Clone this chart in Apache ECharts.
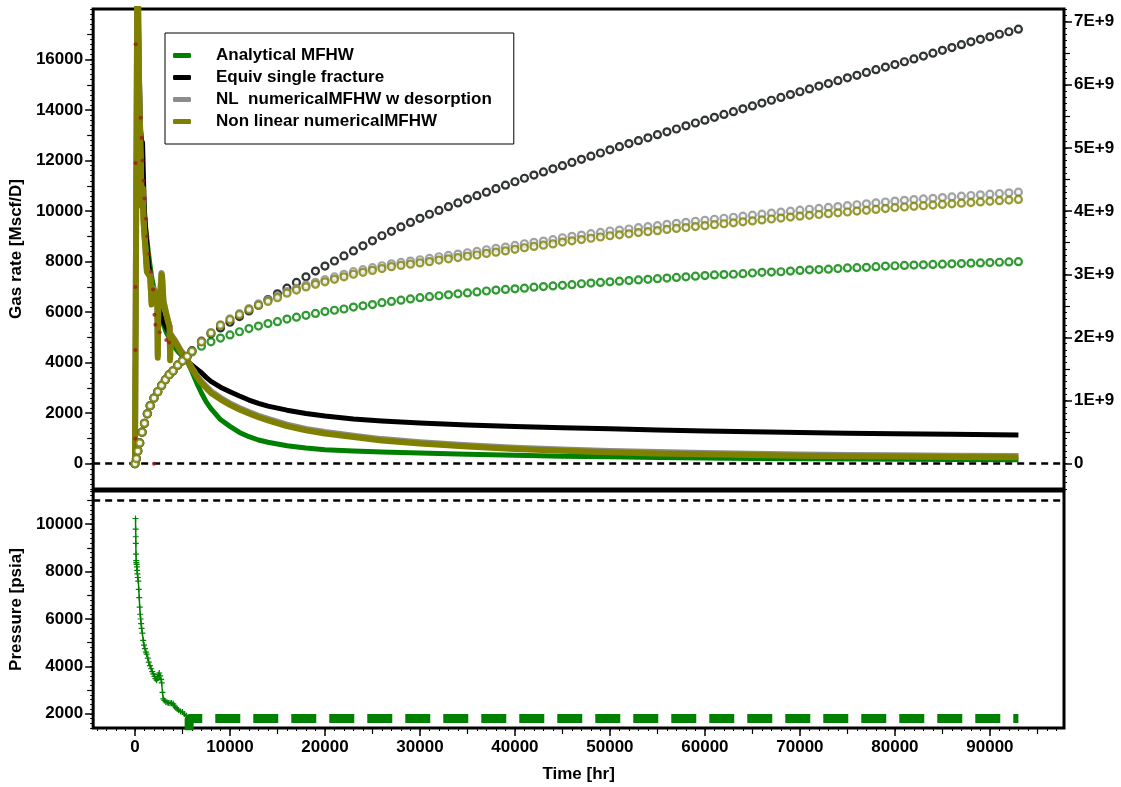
<!DOCTYPE html>
<html><head><meta charset="utf-8">
<script src="https://cdn.jsdelivr.net/npm/echarts@6/dist/echarts.min.js"></script>
<style>html,body{margin:0;padding:0;background:#fff}#c{width:1121px;height:787px}</style>
</head><body><div id="c"></div>
<script>
// ---------------- data ----------------
const legendNames = ['Analytical MFHW', 'Equiv single fracture', 'NL  numericalMFHW w desorption', 'Non linear numericalMFHW'];
const rateTicks = [0, 2000, 4000, 6000, 8000, 10000, 12000, 14000, 16000];
const cumTicks = [0, 1, 2, 3, 4, 5, 6, 7];          // E+9 scf
const presTicks = [2000, 4000, 6000, 8000, 10000];
const timeTicks = [0, 10000, 20000, 30000, 40000, 50000, 60000, 70000, 80000, 90000];

// Gas rate [Mscf/D]
const rateTime = [0, 200, 250, 300, 450, 600, 700, 800, 900, 1000,
  1100, 1250, 1400, 1600, 1750, 1900, 2100, 2350, 2400, 2450,
  2600, 2800, 2850, 3000, 3300, 3500, 3650, 3700, 3750, 3900,
  4200, 4500, 4800, 5100, 5400, 5700, 6000, 6500, 7000, 7500,
  8000, 9000, 10000, 11000, 12000, 13000, 14000, 16000, 18000, 20000,
  23000, 26000, 30000, 35000, 40000, 45000, 50000, 55000, 60000, 65000,
  70000, 75000, 80000, 86000, 93000];
const rateGreen = [0, 0, 19500, 19000, 14500, 12500, 11500, 11000, 10300, 9800,
  9400, 8900, 8400, 7800, 7400, 7100, 6800, 6500, 6400, 6350,
  6100, 5800, 5750, 5500, 5200, 5050, 4950, 4900, 4850, 4750,
  4600, 4450, 4330, 4230, 4150, 3900, 3650, 3200, 2800, 2450,
  2180, 1750, 1480, 1240, 1070, 940, 850, 710, 620, 555,
  500, 465, 425, 375, 335, 300, 272, 248, 228, 212,
  198, 186, 176, 166, 156];
const rateBlack = [0, 0, 19500, 19000, 15500, 13200, 12800, 12700, 11200, 10000,
  9400, 8700, 8000, 7400, 7000, 6800, 6600, 6300, 6200, 6150,
  6000, 5800, 5750, 5600, 5400, 5250, 5150, 5100, 5050, 4950,
  4800, 4650, 4500, 4350, 4200, 4000, 3900, 3750, 3600, 3420,
  3260, 3030, 2850, 2680, 2520, 2390, 2280, 2120, 1990, 1890,
  1770, 1690, 1610, 1530, 1470, 1420, 1380, 1340, 1300, 1270,
  1240, 1210, 1190, 1165, 1140];
const rateGray = [0, 0, 19500, 19000, 14600, 12100, 10300, 10900, 9700, 9100,
  8600, 7700, 7600, 7450, 6400, 6950, 6850, 6650, 4300, 6450,
  6350, 7550, 7450, 6450, 5950, 5650, 5450, 4200, 5150, 5050,
  4900, 4700, 4500, 4350, 4200, 3980, 3790, 3500, 3250, 3060,
  2870, 2610, 2390, 2210, 2050, 1900, 1780, 1550, 1380, 1260,
  1110, 975, 850, 730, 630, 560, 505, 460, 425, 395,
  370, 350, 335, 320, 305];
const rateOlive = [0, 0, 19500, 19000, 14500, 12000, 10200, 10900, 9600, 9000,
  8500, 7600, 7500, 7400, 6300, 6900, 6800, 6600, 4200, 6400,
  6300, 7500, 7400, 6400, 5900, 5600, 5400, 4100, 5100, 5000,
  4850, 4650, 4450, 4300, 4180, 3950, 3750, 3450, 3200, 3000,
  2800, 2550, 2330, 2150, 1990, 1840, 1720, 1490, 1320, 1200,
  1060, 920, 800, 680, 580, 510, 455, 410, 375, 345,
  320, 300, 285, 270, 255];

// measured gas rate points
const measTime = [0, 30, 40, 50, 60, 70, 600, 700, 800, 900, 1000, 1150, 1300, 1500, 1700, 1900, 2000, 2050, 2150, 2600, 3300, 3600, 5300];
const measRate = [0, 1000, 4500, 7000, 11900, 16600, 13700, 12900, 12000, 11200, 10500, 9700, 9000, 8300, 7600, 6900, 0, 5900, 5500, 5200, 4900, 4800, 4200];

// Cumulative gas [E+9 scf]
const cumTime = [0, 150, 300, 500, 750, 1000, 1300, 1600, 2000, 2400, 2800, 3200, 3600, 4000, 4500, 5000, 5500,
  6000, 7000, 8000, 9000, 10000, 11000, 12000, 13000, 14000, 15000, 16000, 17000, 18000, 19000, 20000,
  21000, 22000, 23000, 24000, 25000, 26000, 27000, 28000, 29000, 30000, 31000, 32000, 33000, 34000, 35000,
  36000, 37000, 38000, 39000, 40000, 41000, 42000, 43000, 44000, 45000, 46000, 47000, 48000, 49000, 50000,
  51000, 52000, 53000, 54000, 55000, 56000, 57000, 58000, 59000, 60000, 61000, 62000, 63000, 64000, 65000,
  66000, 67000, 68000, 69000, 70000, 71000, 72000, 73000, 74000, 75000, 76000, 77000, 78000, 79000, 80000,
  81000, 82000, 83000, 84000, 85000, 86000, 87000, 88000, 89000, 90000, 91000, 92000, 93000];
const cumHistory = [0, 0.08, 0.20, 0.33, 0.50, 0.64, 0.79, 0.92, 1.04, 1.14, 1.24, 1.33, 1.41, 1.47, 1.56, 1.63, 1.70];
const cumGreenFc = [1.77, 1.86, 1.93, 1.99, 2.04, 2.09, 2.14, 2.18, 2.22, 2.25, 2.29, 2.32, 2.35, 2.38, 2.41,
  2.43, 2.45, 2.48, 2.50, 2.52, 2.55, 2.57, 2.59, 2.61, 2.63, 2.645, 2.66, 2.675, 2.69, 2.705,
  2.72, 2.735, 2.75, 2.76, 2.77, 2.78, 2.795, 2.805, 2.815, 2.825, 2.835, 2.85, 2.86, 2.87, 2.88,
  2.89, 2.90, 2.91, 2.92, 2.93, 2.94, 2.95, 2.96, 2.97, 2.98, 2.99, 2.995, 3.00, 3.01, 3.02,
  3.03, 3.035, 3.04, 3.05, 3.06, 3.07, 3.075, 3.08, 3.09, 3.10, 3.105, 3.11, 3.12, 3.13, 3.135,
  3.14, 3.145, 3.15, 3.155, 3.16, 3.165, 3.17, 3.175, 3.18, 3.185, 3.19, 3.195, 3.20];
const cumBlackFc = [1.79, 1.94, 2.06, 2.15, 2.24, 2.33, 2.42, 2.51, 2.60, 2.69, 2.78, 2.87, 2.96, 3.05, 3.13,
  3.21, 3.29, 3.37, 3.45, 3.53, 3.61, 3.68, 3.75, 3.82, 3.885, 3.95, 4.01, 4.07, 4.13, 4.19,
  4.245, 4.30, 4.355, 4.41, 4.465, 4.52, 4.57, 4.62, 4.67, 4.72, 4.77, 4.82, 4.87, 4.92, 4.97,
  5.02, 5.07, 5.115, 5.16, 5.21, 5.255, 5.30, 5.35, 5.395, 5.44, 5.485, 5.53, 5.575, 5.62, 5.665,
  5.71, 5.755, 5.80, 5.845, 5.89, 5.935, 5.98, 6.02, 6.065, 6.11, 6.15, 6.195, 6.24, 6.28, 6.32,
  6.365, 6.41, 6.455, 6.50, 6.545, 6.59, 6.635, 6.68, 6.72, 6.76, 6.80, 6.84, 6.88];
const cumGrayFc = [1.78, 1.935, 2.077, 2.20, 2.293, 2.376, 2.458, 2.53, 2.592, 2.654, 2.726, 2.778, 2.83, 2.872, 2.915,
  2.958, 3.00, 3.041, 3.072, 3.104, 3.135, 3.166, 3.187, 3.208, 3.23, 3.251, 3.277, 3.298, 3.32, 3.341,
  3.362, 3.388, 3.41, 3.431, 3.457, 3.483, 3.505, 3.526, 3.547, 3.578, 3.60, 3.621, 3.642, 3.663, 3.685,
  3.70, 3.717, 3.738, 3.754, 3.77, 3.791, 3.807, 3.823, 3.839, 3.855, 3.871, 3.887, 3.903, 3.919, 3.935,
  3.951, 3.967, 3.983, 3.999, 4.015, 4.029, 4.043, 4.058, 4.072, 4.086, 4.101, 4.115, 4.129, 4.144, 4.158,
  4.171, 4.182, 4.193, 4.203, 4.214, 4.225, 4.236, 4.247, 4.257, 4.268, 4.279, 4.289, 4.30];
const cumOliveFc = [1.78, 1.93, 2.07, 2.19, 2.28, 2.36, 2.44, 2.51, 2.57, 2.63, 2.70, 2.75, 2.80, 2.84, 2.88,
  2.92, 2.96, 3.00, 3.03, 3.06, 3.09, 3.12, 3.14, 3.16, 3.18, 3.20, 3.225, 3.245, 3.265, 3.285,
  3.305, 3.33, 3.35, 3.37, 3.395, 3.42, 3.44, 3.46, 3.48, 3.51, 3.53, 3.55, 3.57, 3.59, 3.61,
  3.625, 3.64, 3.66, 3.675, 3.69, 3.71, 3.725, 3.74, 3.755, 3.77, 3.785, 3.80, 3.815, 3.83, 3.845,
  3.86, 3.875, 3.89, 3.905, 3.92, 3.933, 3.946, 3.96, 3.973, 3.986, 4.00, 4.013, 4.026, 4.04, 4.053,
  4.065, 4.075, 4.085, 4.095, 4.105, 4.115, 4.125, 4.135, 4.145, 4.155, 4.165, 4.175, 4.185];

// Pressure [psia]
const presTime = [60, 70, 80, 90, 110, 130, 150, 170, 200, 230, 260, 300, 350, 400, 450, 500, 550, 600, 650, 700,
  780, 870, 950, 1050, 1150, 1230, 1350, 1450, 1580, 1700, 1820, 1930, 2050, 2150, 2280, 2380, 2450, 2560, 2650, 2750,
  2810, 2900, 2980, 3100, 3250, 3400, 3550, 3700, 3850, 4030, 4150, 4300, 4450, 4600, 4800, 5000, 5200, 5400, 5600];
const presVal = [10240, 9790, 9470, 9190, 8740, 8460, 8380, 8300, 8200, 8050, 7900, 7750, 7600, 7250, 6900, 6500, 6200, 6000, 5800, 5600,
  5400, 5100, 4900, 4750, 4600, 4520, 4350, 4180, 4030, 3900, 3780, 3680, 3580, 3480, 3420, 3500, 3650, 3720, 3600, 3450,
  3300, 2900, 2630, 2560, 2500, 2480, 2460, 2440, 2460, 2420, 2330, 2260, 2200, 2150, 2100, 2070, 1990, 1920, 1850];
const fcPresTime = [5700, 5700, 93000];
const fcPresVal = [1300, 1800, 1800];
const initialPressure = 11000;

// ---------------- styling helpers ----------------
const colors = ['#008000', '#000000', '#8c8c8c', '#808000'];
const FONT = 'Liberation Sans, Arial, sans-serif';
const txt = {fontFamily: FONT, fontWeight: 'bold', fontSize: 17, color: '#000'};
function range(a, b, s) { const r = []; for (let v = a; v <= b + 1e-9; v += s) r.push(Math.round(v * 1000) / 1000); return r; }
const pair = (xs, ys) => xs.map((x, i) => [x, ys[i]]);
const plain = v => String(v);

const X_MIN = -4400, X_MAX = 97800;
const RATE_MIN = -1000, RATE_MAX = 18000;
const CUM_MIN = -0.4, CUM_MAX = 7.2;
const P_MIN = 1400, P_MAX = 11400;
const NOLINE = {show: false, onZero: false};

function tickAxis(base, values, len, width) {
  return Object.assign({
    type: 'value', splitLine: {show: false}, axisLine: NOLINE,
    axisLabel: {show: false},
    axisTick: {show: true, inside: false, length: len, lineStyle: {color: '#000', width: width}, customValues: values}
  }, base);
}

const yAxes = [
  // 0 top-left main
  {type: 'value', gridIndex: 0, position: 'left', min: RATE_MIN, max: RATE_MAX,
   name: 'Gas rate [Mscf/D]', nameLocation: 'middle', nameGap: 60, nameTextStyle: txt,
   splitLine: {show: false}, axisLine: NOLINE,
   axisTick: {show: true, length: 8, lineStyle: {color: '#000', width: 1.5}, customValues: rateTicks},
   axisLabel: Object.assign({margin: 10, customValues: rateTicks, formatter: plain}, txt)},
  // 1 top-right main (cumulative)
  {type: 'value', gridIndex: 0, position: 'right', min: CUM_MIN, max: CUM_MAX,
   splitLine: {show: false}, axisLine: NOLINE,
   axisTick: {show: true, length: 8, lineStyle: {color: '#000', width: 1.5}, customValues: cumTicks},
   axisLabel: Object.assign({margin: 10, customValues: cumTicks, formatter: v => v === 0 ? '0' : v + 'E+9'}, txt)},
  tickAxis({gridIndex: 0, position: 'left', min: RATE_MIN, max: RATE_MAX}, range(1000, 17000, 2000), 6, 1.2),
  tickAxis({gridIndex: 0, position: 'left', min: RATE_MIN, max: RATE_MAX}, range(-1000, 18000, 200), 3, 1),
  tickAxis({gridIndex: 0, position: 'right', min: CUM_MIN, max: CUM_MAX}, range(0.5, 6.5, 1), 6, 1.2),
  tickAxis({gridIndex: 0, position: 'right', min: CUM_MIN, max: CUM_MAX}, range(-0.4, 7.2, 0.1), 3, 1),
  // 6 bottom-left main (pressure)
  {type: 'value', gridIndex: 1, position: 'left', min: P_MIN, max: P_MAX,
   name: 'Pressure [psia]', nameLocation: 'middle', nameGap: 60, nameTextStyle: txt,
   splitLine: {show: false}, axisLine: NOLINE,
   axisTick: {show: true, length: 8, lineStyle: {color: '#000', width: 1.5}, customValues: presTicks},
   axisLabel: Object.assign({margin: 10, customValues: presTicks, formatter: plain}, txt)},
  tickAxis({gridIndex: 1, position: 'left', min: P_MIN, max: P_MAX}, range(3000, 11000, 2000), 6, 1.2),
  tickAxis({gridIndex: 1, position: 'left', min: P_MIN, max: P_MAX}, range(1400, 11400, 200), 3, 1)
];

const xAxes = [
  {type: 'value', gridIndex: 0, min: X_MIN, max: X_MAX, show: false, axisLine: NOLINE},
  {type: 'value', gridIndex: 1, position: 'bottom', min: X_MIN, max: X_MAX,
   name: 'Time [hr]', nameLocation: 'middle', nameGap: 38, nameTextStyle: txt,
   splitLine: {show: false}, axisLine: NOLINE,
   axisTick: {show: true, length: 8, lineStyle: {color: '#000', width: 1.5}, customValues: timeTicks},
   axisLabel: Object.assign({margin: 11, customValues: timeTicks, formatter: plain}, txt)},
  tickAxis({gridIndex: 1, position: 'bottom', min: X_MIN, max: X_MAX}, range(-5000, 95000, 10000).filter(v => v > X_MIN), 6, 1.2),
  tickAxis({gridIndex: 1, position: 'bottom', min: X_MIN, max: X_MAX}, range(-4000, 97000, 1000), 3, 1)
];

const rateSets = [rateGreen, rateBlack, rateGray, rateOlive];
const rateWidths = [5, 5, 6, 6];
const cumSets = [cumHistory.concat(cumGreenFc), cumHistory.concat(cumBlackFc), cumHistory.concat(cumGrayFc), cumHistory.concat(cumOliveFc)];

const series = [];
rateSets.forEach((vals, i) => {
  const s = {
    name: legendNames[i], type: 'line', xAxisIndex: 0, yAxisIndex: 0,
    data: pair(rateTime, vals), showSymbol: false, symbol: 'none',
    lineStyle: {color: colors[i], width: rateWidths[i], join: 'round'},
    itemStyle: {color: colors[i]}, z: 2 + i, animation: false, silent: true
  };
  if (i === 0) {
    s.markLine = {silent: true, symbol: 'none', label: {show: false}, animation: false,
      lineStyle: {color: '#000', type: [7, 5], width: 2.5}, data: [{yAxis: 0}]};
  }
  series.push(s);
});
series.push({
  name: 'measured', type: 'scatter', xAxisIndex: 0, yAxisIndex: 0,
  data: pair(measTime, measRate), symbol: 'circle', symbolSize: 4,
  itemStyle: {color: '#a01818'}, z: 6, silent: true, animation: false
});
cumSets.forEach((vals, i) => {
  series.push({
    name: legendNames[i], type: 'scatter', xAxisIndex: 0, yAxisIndex: 1,
    data: pair(cumTime, vals), symbol: 'circle', symbolSize: 7,
    itemStyle: {color: '#eef8f4', borderColor: colors[i], borderWidth: 2.2},
    z: 10 + i, silent: true, animation: false
  });
});
series.push({
  name: 'pressure', type: 'line', xAxisIndex: 1, yAxisIndex: 6,
  data: pair(presTime, presVal), showSymbol: true, showAllSymbol: true,
  symbol: 'path://M2,0H3V2H5V3H3V5H2V3H0V2H2Z', symbolSize: 6,
  lineStyle: {color: '#008000', width: 1.5}, itemStyle: {color: '#008000'},
  z: 3, silent: true, animation: false,
  markLine: {silent: true, symbol: 'none', label: {show: false}, animation: false,
    lineStyle: {color: '#000', type: [7, 5], width: 2.5}, data: [{yAxis: initialPressure}]}
});
series.push({
  name: 'pressure forecast', type: 'line', xAxisIndex: 1, yAxisIndex: 6,
  data: pair(fcPresTime, fcPresVal), showSymbol: false, symbol: 'none',
  lineStyle: {color: '#008000', width: 9, type: [25, 13], cap: 'butt'},
  z: 3, silent: true, animation: false
});

const chart = echarts.init(document.getElementById('c'), null, {renderer: 'canvas'});
chart.setOption({
  animation: false,
  backgroundColor: '#fff',
  grid: [
    {left: 93, right: 57, top: 9, height: 480, show: true, borderColor: '#000', borderWidth: 3, backgroundColor: 'transparent'},
    {left: 93, right: 57, top: 491, height: 237, show: true, borderColor: '#000', borderWidth: 3, backgroundColor: 'transparent'}
  ],
  legend: {
    left: 165, top: 33, orient: 'vertical', selectedMode: false,
    itemWidth: 18, itemHeight: 5, itemGap: 5,
    padding: [14, 22, 14, 8],
    borderColor: '#000', borderWidth: 1, backgroundColor: '#fff',
    textStyle: {fontFamily: FONT, fontWeight: 'bold', fontSize: 17, color: '#000', lineHeight: 17, padding: [0, 0, 0, 20]},
    data: legendNames.map((n, i) => ({name: n, icon: 'roundRect', itemStyle: {color: colors[i]}}))
  },
  xAxis: xAxes,
  yAxis: yAxes,
  series: series
});
</script>
</body></html>
